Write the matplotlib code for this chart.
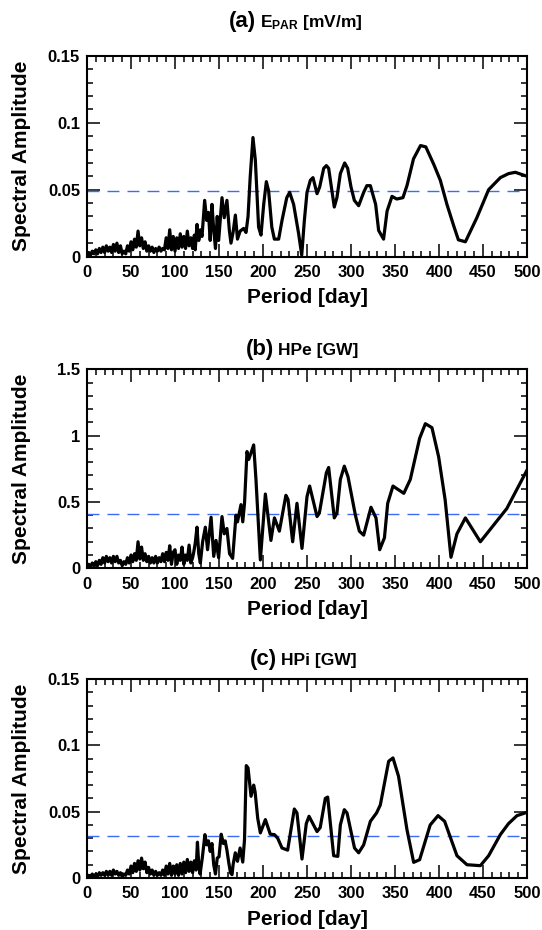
import matplotlib
matplotlib.use("Agg")
import matplotlib.pyplot as plt
from matplotlib.ticker import MultipleLocator, FuncFormatter

plt.rcParams['font.family'] = ['Liberation Sans', 'DejaVu Sans']
plt.rcParams['font.weight'] = 'bold'
plt.rcParams['mathtext.fontset'] = 'custom'
plt.rcParams['mathtext.bf'] = 'Liberation Sans:bold'
plt.rcParams['mathtext.rm'] = 'Liberation Sans:bold'
plt.rcParams['mathtext.it'] = 'Liberation Sans:bold'

# ---------------- data ----------------
noise_days = [0, 2, 4, 6, 8, 10, 12, 14, 16, 18, 20, 22, 24, 26, 28, 30, 32, 34, 36, 38,
              40, 42, 44, 46, 48, 50, 52, 54, 56, 58, 60, 62, 64, 66, 68, 70, 72, 74, 76, 78,
              80, 82, 84, 86, 88, 90, 92, 94, 96, 98, 100, 102, 104, 106, 108, 110, 112, 114,
              116, 118, 120]

noise_a = [0.000, 0.003, 0.001, 0.004, 0.002, 0.005, 0.002, 0.006, 0.003, 0.007,
           0.003, 0.008, 0.004, 0.007, 0.003, 0.009, 0.004, 0.010, 0.003, 0.008,
           0.002, 0.004, 0.002, 0.008, 0.004, 0.011, 0.005, 0.013, 0.007, 0.019,
           0.008, 0.014, 0.006, 0.011, 0.004, 0.008, 0.004, 0.007, 0.003, 0.006,
           0.004, 0.007, 0.004, 0.006, 0.005, 0.014, 0.006, 0.020, 0.005, 0.015,
           0.004, 0.014, 0.006, 0.017, 0.007, 0.015, 0.006, 0.019, 0.008, 0.014,
           0.006]
period_a = [122, 123, 125, 127, 129, 130.7, 133.7, 136, 138, 140, 142, 144, 146, 148, 149.6,
            151.5, 153.4, 156, 159, 161.7, 163.6, 166, 168.6, 171, 174, 178, 180.7, 183, 185.5,
            188.6, 191.3, 195, 197.7, 200.8, 203.8, 206.4, 210, 212.9, 217.8, 221.6, 227, 230.3,
            234.8, 240.5, 244, 247, 250, 253.8, 256.8, 261.4, 264.4, 269, 272, 274.6, 278.4, 281,
            284, 287.9, 292.8, 296.2, 300, 303.8, 308.7, 314.4, 318, 322, 328, 331.4, 337, 341,
            346.6, 352, 359, 363.6, 371, 379, 385, 394, 401.5, 409, 416.7, 422, 430, 443, 456.4,
            469.7, 479, 486.7, 500]
amp_a = [0.016, 0.005, 0.024, 0.012, 0.020, 0.015, 0.042, 0.027, 0.033, 0.012,
         0.039, 0.020, 0.006, 0.030, 0.012, 0.028, 0.044, 0.029, 0.042, 0.020,
         0.010, 0.018, 0.031, 0.013, 0.019, 0.021, 0.018, 0.030, 0.060, 0.089,
         0.072, 0.022, 0.016, 0.039, 0.056, 0.049, 0.022, 0.013, 0.013, 0.027,
         0.044, 0.048, 0.039, 0.017, 0.001, 0.027, 0.048, 0.057, 0.059, 0.047,
         0.052, 0.066, 0.068, 0.066, 0.049, 0.037, 0.044, 0.062, 0.070, 0.066,
         0.052, 0.042, 0.038, 0.048, 0.053, 0.053, 0.039, 0.0195, 0.013, 0.034,
         0.045, 0.043, 0.044, 0.053, 0.073, 0.083, 0.082, 0.069, 0.057, 0.039,
         0.023, 0.0125, 0.011, 0.029, 0.050, 0.059, 0.062, 0.063, 0.060]
thresh_a = 0.049

noise_b = [0.00, 0.03, 0.01, 0.04, 0.02, 0.05, 0.02, 0.06, 0.03, 0.08,
           0.04, 0.09, 0.05, 0.08, 0.04, 0.09, 0.05, 0.09, 0.04, 0.06,
           0.02, 0.05, 0.03, 0.08, 0.04, 0.10, 0.05, 0.11, 0.06, 0.20,
           0.07, 0.16, 0.06, 0.11, 0.05, 0.09, 0.04, 0.08, 0.04, 0.09,
           0.04, 0.08, 0.05, 0.11, 0.05, 0.12, 0.06, 0.17, 0.03, 0.12,
           0.14, 0.03, 0.10, 0.06, 0.16, 0.03, 0.10, 0.06, 0.175, 0.04,
           0.08]
period_b = [121, 123, 125, 127, 128.8, 131.4, 134.5, 137, 141, 144, 146.6, 149.6, 153.4, 156,
            159, 162, 165.5, 169.3, 171, 175, 177, 179, 181.8, 183.7, 186.4, 189.4, 192, 197,
            202.7, 209, 213, 218.6, 226, 228.4, 233.7, 238.6, 244.3, 250, 253, 261.4, 264, 272,
            274.6, 281, 284, 287.9, 292.4, 296.6, 305, 309.5, 314.4, 322.7, 328.4, 332.6, 338,
            341.7, 347.7, 360, 367.4, 378, 384.5, 392, 399.6, 407, 413.6, 420.4, 430, 447, 477, 500]
amp_b = [0.11, 0.19, 0.31, 0.11, 0.04, 0.20, 0.31, 0.14, 0.385, 0.09,
         0.21, 0.08, 0.39, 0.26, 0.30, 0.11, 0.075, 0.40, 0.35, 0.48,
         0.35, 0.49, 0.88, 0.82, 0.87, 0.93, 0.67, 0.063, 0.56, 0.21,
         0.38, 0.28, 0.55, 0.52, 0.20, 0.49, 0.15, 0.54, 0.62, 0.39,
         0.415, 0.72, 0.76, 0.38, 0.415, 0.67, 0.77, 0.69, 0.40, 0.28,
         0.25, 0.46, 0.38, 0.14, 0.23, 0.49, 0.62, 0.565, 0.67, 0.98,
         1.09, 1.06, 0.84, 0.515, 0.083, 0.26, 0.38, 0.20, 0.45, 0.74]
thresh_b = 0.407

noise_c = [0.000, 0.002, 0.001, 0.003, 0.001, 0.003, 0.001, 0.004, 0.002, 0.004,
           0.002, 0.005, 0.002, 0.005, 0.002, 0.006, 0.003, 0.005, 0.002, 0.004,
           0.001, 0.003, 0.002, 0.006, 0.003, 0.009, 0.004, 0.011, 0.005, 0.013,
           0.006, 0.015, 0.007, 0.012, 0.004, 0.008, 0.003, 0.006, 0.002, 0.005,
           0.002, 0.004, 0.002, 0.006, 0.002, 0.009, 0.003, 0.011, 0.002, 0.009,
           0.003, 0.010, 0.002, 0.011, 0.003, 0.012, 0.004, 0.014, 0.005, 0.012,
           0.004]
period_c = [122, 124, 125.5, 127, 128.5, 131, 134, 136, 138, 140, 142, 144, 146, 148, 150,
            152.5, 155, 157, 159, 161, 163, 164.8, 166, 168.5, 171, 174, 177, 179, 181, 183,
            186.4, 189.4, 191, 194, 197, 202.7, 208.3, 213, 216.7, 221.6, 228, 235.6, 238.6,
            244.3, 249.2, 252.3, 261.4, 265, 270.8, 273.5, 280.3, 285, 287.9, 292.4, 295.5, 304,
            308.7, 314.4, 322, 329, 333.3, 342.8, 347.7, 354, 363.6, 371.2, 378, 390, 398.9,
            406.4, 420.4, 431.8, 447, 456.4, 469.7, 479, 488.6, 500]
amp_c = [0.013, 0.006, 0.027, 0.010, 0.003, 0.015, 0.0327, 0.025, 0.028, 0.020,
         0.026, 0.010, 0.003, 0.015, 0.016, 0.033, 0.026, 0.028, 0.021, 0.012,
         0.004, 0.0025, 0.010, 0.019, 0.0126, 0.0226, 0.012, 0.029, 0.0847, 0.083,
         0.0616, 0.070, 0.065, 0.045, 0.034, 0.044, 0.033, 0.0327, 0.030, 0.0226,
         0.021, 0.052, 0.049, 0.0143, 0.041, 0.0465, 0.035, 0.038, 0.060, 0.061,
         0.0168, 0.0163, 0.040, 0.0515, 0.049, 0.0226, 0.019, 0.025, 0.0427, 0.049,
         0.055, 0.088, 0.0905, 0.0767, 0.0364, 0.0118, 0.0138, 0.040, 0.047, 0.0427,
         0.0168, 0.010, 0.0093, 0.0168, 0.0327, 0.041, 0.047, 0.0495]
thresh_c = 0.0314

panel_tags = ['(a)', '(b)', '(c)']
panel_names = [r'E$_{\mathbf{PAR}}$ [mV/m]', 'HPe [GW]', 'HPi [GW]']
ymax = [0.15, 1.5, 0.15]
ymajor = [0.05, 0.5, 0.05]
yminor = [0.01, 0.1, 0.01]

# ---------------- layout ----------------
W, H = 542, 930
fig = plt.figure(figsize=(W / 100, H / 100), dpi=100)

boxes = [(87, 56, 527, 256.5), (87, 369.3, 527, 568.3), (87, 679, 527, 878)]
title_x = [229, 246, 250]
title_base = [27, 355, 665]

series = [(noise_a, period_a, amp_a, thresh_a),
          (noise_b, period_b, amp_b, thresh_b),
          (noise_c, period_c, amp_c, thresh_c)]

fmt = FuncFormatter(lambda v, p: '0' if abs(v) < 1e-12 else ('%g' % v))

for i, (nz, per, amp, th) in enumerate(series):
    l, t, r, b = boxes[i]
    ax = fig.add_axes([l / W, 1 - b / H, (r - l) / W, (b - t) / H])
    x = list(noise_days) + list(per)
    y = list(nz) + list(amp)
    ax.plot(x, y, color='black', lw=2.3, solid_joinstyle='round', zorder=3)
    ax.axhline(th, color='#3d6cf2', lw=1.0, ls=(0, (8.6, 5.8)), zorder=2)
    ax.set_xlim(0, 500)
    ax.set_ylim(0, ymax[i])
    ax.xaxis.set_major_locator(MultipleLocator(50))
    ax.xaxis.set_minor_locator(MultipleLocator(10))
    ax.yaxis.set_major_locator(MultipleLocator(ymajor[i]))
    ax.yaxis.set_minor_locator(MultipleLocator(yminor[i]))
    ax.yaxis.set_major_formatter(fmt)
    ax.tick_params(which='both', direction='in', top=True, right=True, width=1.1)
    ax.tick_params(which='major', length=9.5)
    ax.tick_params(which='minor', length=4.5)
    ax.tick_params(axis='x', which='major', pad=6, labelsize=12)
    ax.tick_params(axis='y', which='major', pad=5, labelsize=12)
    for s in ax.spines.values():
        s.set_linewidth(1.5)
    ax.set_xlabel('Period [day]', fontsize=15, fontweight='bold', labelpad=6)
    ax.set_ylabel('Spectral Amplitude', fontsize=15, fontweight='bold')
    ax.yaxis.set_label_coords((31 - l) / (r - l), 0.5)

    yb = 1 - title_base[i] / H
    t1 = fig.text(title_x[i] / W, yb, panel_tags[i], fontsize=16, fontweight='bold',
                  ha='left', va='baseline')
    fig.canvas.draw()
    ext = t1.get_window_extent()
    fig.text((ext.x1 + 4) / W, yb, panel_names[i], fontsize=12.5, fontweight='bold',
             ha='left', va='baseline')

fig.savefig('out.png', dpi=100)
